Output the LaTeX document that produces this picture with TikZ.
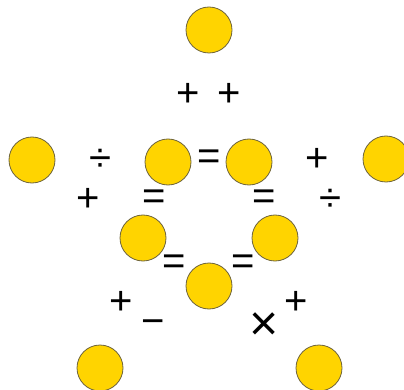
\documentclass[tikz,border=0pt]{standalone}
\usepackage{fontspec}
\setmainfont{Liberation Sans}
\definecolor{gold}{RGB}{255,212,0}
\definecolor{rim}{RGB}{110,100,60}
\begin{document}
\begin{tikzpicture}[x=1pt,y=-1pt,
  ball/.style={circle,fill=gold,draw=rim,line width=0.8pt,minimum size=46pt,inner sep=0pt},
  op/.style={inner sep=0pt,font=\fontsize{40}{40}\selectfont}]
\useasboundingbox (0,0) rectangle (404,390);
\node[ball] (top) at (209,30) {};
\node[ball] (l) at (32,160) {};
\node[ball] (il) at (168,162) {};
\node[ball] (ir) at (249,162) {};
\node[ball] (r) at (386,159) {};
\node[ball] (ml) at (143,238) {};
\node[ball] (mr) at (275,238) {};
\node[ball] (bc) at (209,286) {};
\node[ball] (bl) at (100,368) {};
\node[ball] (br) at (319,368) {};
\node[op] (p1) at (188,95) {+};
\node[op] (p2) at (229,95) {+};
\node[op] (d1) at (100,160) {÷};
\node[op] (e1) at (209,160) {=};
\node[op] (p3) at (317,160) {+};
\node[op] (p4) at (88,200) {+};
\node[op] (e2) at (154,200) {=};
\node[op] (e3) at (264,200) {=};
\node[op] (d2) at (330,200) {÷};
\node[op] (e4) at (174,265) {=};
\node[op] (e5) at (243,265) {=};
\node[op] (p5) at (121,303) {+};
\node[op] (m1) at (153,327) {−};
\node[op,font=\fontsize{50}{50}\selectfont] (x1) at (264,327) {×};
\node[op] (p6) at (296,303) {+};
\end{tikzpicture}
\end{document}
